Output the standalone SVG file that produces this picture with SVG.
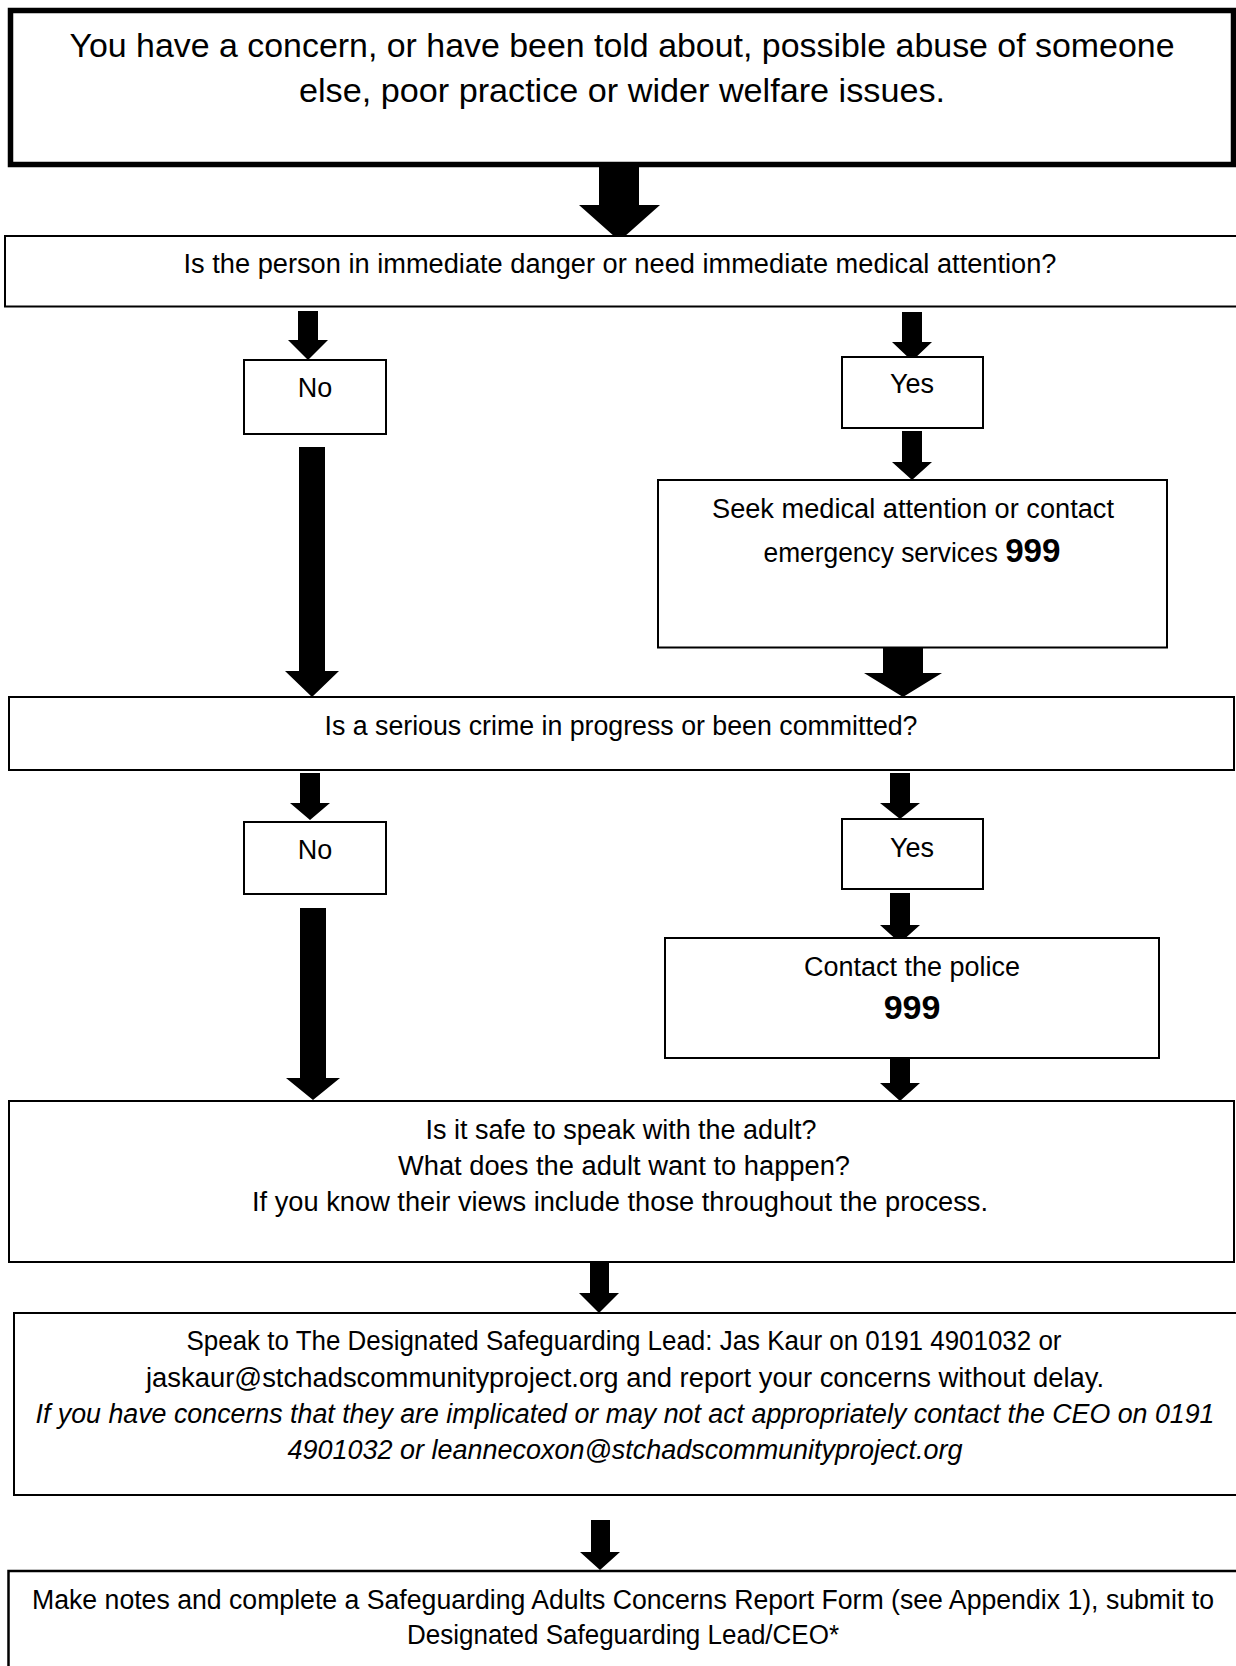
<svg xmlns="http://www.w3.org/2000/svg" width="1236" height="1666" viewBox="0 0 1236 1666">
<style>
.box{fill:#fff;stroke:#000;stroke-width:2}
.thick{stroke-width:5.5}
.t{font-family:"Liberation Sans",Arial,sans-serif;font-size:27px;text-anchor:middle;fill:#000}
.big{font-size:34px}
.b{font-weight:bold;font-size:34px}
.i{font-style:italic}
.arrow{fill:#000;stroke:none}
</style>
<rect width="1236" height="1666" fill="#fff"/>
<g id="connectors">
<polygon class="arrow" points="599,167 639,167 639,205 660,205 619.5,241 579,205 599,205"/>
<polygon class="arrow" points="298,311 318,311 318,340 328,340 308,360 288,340 298,340"/>
<polygon class="arrow" points="902,312 922,312 922,342 932,342 912,361 892,342 902,342"/>
<polygon class="arrow" points="902,431 922,431 922,462 932,462 912,480 892,462 902,462"/>
<polygon class="arrow" points="299,447 325,447 325,671 339,671 312,697 285,671 299,671"/>
<polygon class="arrow" points="883,648 923,648 923,673 942,673 903,697 864,673 883,673"/>
<polygon class="arrow" points="300,773 320,773 320,803 330,803 310,820 290,803 300,803"/>
<polygon class="arrow" points="890,773 910,773 910,803 920,803 900,819 880,803 890,803"/>
<polygon class="arrow" points="890,893 910,893 910,925 920,925 900,943 880,925 890,925"/>
<polygon class="arrow" points="300,908 326,908 326,1078 340,1078 313,1100 286,1078 300,1078"/>
<polygon class="arrow" points="890,1058 910,1058 910,1083 920,1083 900,1101 880,1083 890,1083"/>
<polygon class="arrow" points="590,1263 609,1263 609,1293 619,1293 599,1313 579,1293 590,1293"/>
<polygon class="arrow" points="591,1520 610,1520 610,1552 620,1552 600,1570 580,1552 591,1552"/>
</g>
<g id="n1">
<rect class="box thick" x="10.5" y="10.5" width="1223" height="154"/>
<text class="t big" x="622" y="57" textLength="1105" lengthAdjust="spacingAndGlyphs">You have a concern, or have been told about, possible abuse of someone</text>
<text class="t big" x="622" y="102" textLength="646" lengthAdjust="spacingAndGlyphs">else, poor practice or wider welfare issues.</text>
</g>
<g id="n2">
<rect class="box" x="5" y="236" width="1240" height="70.5"/>
<text class="t" x="620" y="273" textLength="873" lengthAdjust="spacingAndGlyphs">Is the person in immediate danger or need immediate medical attention?</text>
</g>
<g id="n3">
<rect class="box" x="244" y="360" width="142" height="74"/>
<text class="t" x="315" y="397">No</text>
</g>
<g id="n4">
<rect class="box" x="842" y="357" width="141" height="71"/>
<text class="t" x="912" y="393">Yes</text>
</g>
<g id="n5">
<rect class="box" x="658" y="480" width="509" height="167.5"/>
<text class="t" x="913" y="518" textLength="402" lengthAdjust="spacingAndGlyphs">Seek medical attention or contact</text>
<text class="t" x="912" y="562" textLength="297" lengthAdjust="spacingAndGlyphs">emergency services <tspan class="b">999</tspan></text>
</g>
<g id="n6">
<rect class="box" x="9" y="697" width="1225" height="73"/>
<text class="t" x="621" y="735" textLength="593" lengthAdjust="spacingAndGlyphs">Is a serious crime in progress or been committed?</text>
</g>
<g id="n7">
<rect class="box" x="244" y="822" width="142" height="72"/>
<text class="t" x="315" y="859">No</text>
</g>
<g id="n8">
<rect class="box" x="842" y="819" width="141" height="70"/>
<text class="t" x="912" y="857">Yes</text>
</g>
<g id="n9">
<rect class="box" x="665" y="938" width="494" height="120"/>
<text class="t" x="912" y="976" textLength="216" lengthAdjust="spacingAndGlyphs">Contact the police</text>
<text class="t b" x="912" y="1019">999</text>
</g>
<g id="n10">
<rect class="box" x="9" y="1101" width="1225" height="161"/>
<text class="t" x="621" y="1139" textLength="391" lengthAdjust="spacingAndGlyphs">Is it safe to speak with the adult?</text>
<text class="t" x="624" y="1175" textLength="452" lengthAdjust="spacingAndGlyphs">What does the adult want to happen?</text>
<text class="t" x="620" y="1211" textLength="736" lengthAdjust="spacingAndGlyphs">If you know their views include those throughout the process.</text>
</g>
<g id="n11">
<rect class="box" x="14" y="1313" width="1230" height="182"/>
<text class="t" x="624" y="1350" textLength="875" lengthAdjust="spacingAndGlyphs">Speak to The Designated Safeguarding Lead: Jas Kaur on 0191 4901032 or</text>
<text class="t" x="625" y="1387" textLength="958" lengthAdjust="spacingAndGlyphs">jaskaur@stchadscommunityproject.org and report your concerns without delay.</text>
<text class="t i" x="625" y="1423" textLength="1179" lengthAdjust="spacingAndGlyphs">If you have concerns that they are implicated or may not act appropriately contact the CEO on 0191</text>
<text class="t i" x="625" y="1459" textLength="675" lengthAdjust="spacingAndGlyphs">4901032 or leannecoxon@stchadscommunityproject.org</text>
</g>
<g id="n12">
<rect class="box" x="8.5" y="1571" width="1240" height="120" style="stroke-width:2.5"/>
<text class="t" x="623" y="1609" textLength="1182" lengthAdjust="spacingAndGlyphs">Make notes and complete a Safeguarding Adults Concerns Report Form (see Appendix 1), submit to</text>
<text class="t" x="623" y="1644" textLength="432" lengthAdjust="spacingAndGlyphs">Designated Safeguarding Lead/CEO*</text>
</g>
</svg>
